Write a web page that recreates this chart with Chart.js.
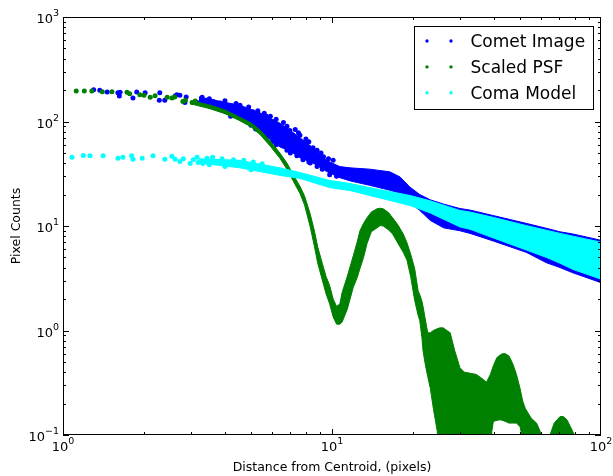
<!DOCTYPE html>
<html>
<head>
<meta charset="utf-8">
<script src="https://cdn.jsdelivr.net/npm/chart.js@4.4.1/dist/chart.umd.min.js"></script>
<style>
  body { margin: 0; background: #fff; }
  canvas { display: block; }
</style>
</head>
<body>
<canvas id="profileChart" width="613" height="476"></canvas>
<script>
// scattered points in the inner part of each profile
const cometX = [1.30, 1.37, 1.46, 1.60, 1.62, 1.63, 1.82, 1.88, 2.02, 2.29, 2.28, 2.39, 2.61, 2.65, 2.72, 2.87, 2.84, 3.15, 3.29, 3.31,
  3.43, 3.5, 3.62, 3.73, 3.83, 4.0, 4.07, 4.2, 4.27, 4.4, 4.55, 4.85, 4.9, 5.0, 5.08, 5.3, 5.40, 5.7, 5.7, 5.9,
  6.05, 6.2, 6.41, 6.6, 6.97, 7.0, 7.2, 7.3, 7.6, 7.8, 8.0, 8.05, 8.3, 8.5, 8.8, 8.8, 9.0, 9.3, 9.5, 9.8, 10.1,
  5.6, 6.2, 6.8, 7.5, 8.2, 9.1, 9.7, 5.2, 6.0, 6.8, 7.4, 8.2, 9.2, 10.4];
const cometY = [201, 199, 192, 188, 175, 190, 168, 192, 188, 188, 160, 160, 175, 180, 178, 172, 152, 152, 171, 160,
  160, 165, 155, 138, 150, 158, 138, 112, 128, 149, 143, 121, 138, 92, 124, 127, 103, 112, 70, 112,
  96, 60, 88, 98, 82, 50, 69, 84, 74, 43, 68, 62, 40, 56, 53, 37, 45, 46, 40, 31, 42.5,
  120, 105, 90, 78, 64, 50, 44, 85, 64, 53, 47, 41, 35, 30];

const psfX = [1.12, 1.20, 1.28, 1.40, 1.52, 1.73, 1.77, 1.93, 2.0, 2.11, 2.2, 2.44, 2.54, 2.6, 2.79, 2.85, 3.02, 3.1];
const psfY = [196, 196, 196, 193, 193, 190, 184, 180, 178, 171, 176, 171, 168, 172, 155, 160, 152, 157];

const comaX = [1.08, 1.19, 1.26, 1.41, 1.60, 1.67, 1.80, 1.82, 1.97, 2.16, 2.39, 2.54, 2.61, 2.72, 2.80, 2.97, 3.05, 3.15, 3.18, 3.31,
  3.43, 3.5, 3.6, 3.9, 4.0, 4.3, 4.7, 5.0, 5.1, 5.5];
const comaY = [45.4, 47.4, 47, 47, 44.5, 45.4, 47, 43.5, 44.5, 47, 43.5, 46.4, 43.5, 41.5, 44, 39.7, 43, 45.4, 40.6, 39.7,
  44.5, 38.5, 45.5, 44, 37, 43, 42.5, 34.5, 41, 39.5];

// dense parts: upper and lower envelope of the point cloud
const cometBandX  = [3.2, 3.83, 4.55, 5.4, 6.41, 7.0, 7.6, 8.5, 9.6, 10.7, 11.7, 13.8, 16.4, 17.9, 19.5, 21.2, 23.2, 26, 29.9, 32.6, 39.7, 52.7, 62.7, 70.4, 78.5, 100];
const cometBandHi = [172, 156, 143, 121, 96, 82, 70, 56, 42, 37, 36, 35, 33, 29.5, 23.5, 20, 17.8, 16.2, 14.7, 14.2, 12.6, 10.6, 9.5, 8.8, 8.4, 7.3];
const cometBandLo = [145, 125, 104, 80, 57, 52, 45, 40, 33, 29, 27, 24.5, 22, 20.5, 16.7, 14.1, 11.3, 9.6, 9.0, 8.5, 7.2, 5.6, 4.45, 4.0, 3.57, 2.87];

const psfBandX = [3.0, 3.5, 4.0, 4.5, 5.0, 5.4, 5.9, 6.4, 6.8, 7.2, 7.6, 7.9, 8.3, 8.6, 8.85, 9.2, 9.5, 9.8, 10.1, 10.4,
  10.7, 10.9, 11.4, 12.0, 12.4, 12.7, 13.1, 13.5, 14.0, 14.7, 15.1, 15.5, 16.2, 16.8, 17.6, 18.4, 19.0, 19.6, 20.3, 20.9,
  21.2, 21.6, 21.8, 22.2, 22.7, 23.2, 23.8, 24.6, 25.2, 25.9, 27.5, 28.6, 29.9, 31.0, 32.6, 34.4, 36.0, 37.5, 38.8, 39.3,
  39.8, 41.0, 42.1, 43.0, 44.1, 45.5, 47.0, 48.5, 50.0, 50.8, 51.2, 52.3, 55.0, 57.6, 60.2, 62.0, 64.6, 67.0, 70.4, 72.5,
  74.7, 77.0, 79.6, 81.0];
const psfBandHi = [158, 144, 129, 111, 97, 83, 65, 50, 40, 30.5, 24, 19.5, 13, 9, 6.3, 4.4, 3.3, 2.7, 2.0, 1.7,
  1.8, 2.3, 3.3, 5.2, 7.0, 9.0, 10.6, 12.0, 13.6, 14.6, 14.8, 14.6, 13.5, 12.0, 10.2, 8.4, 6.9, 5.4, 3.9, 2.4,
  2.2, 1.9, 1.7, 1.3, 0.95, 0.95, 1.0, 1.04, 1.06, 1.06, 0.95, 0.64, 0.44, 0.40, 0.39, 0.38, 0.35, 0.32, 0.38, 0.42,
  0.46, 0.55, 0.58, 0.60, 0.60, 0.57, 0.48, 0.38, 0.28, 0.23, 0.21, 0.18, 0.145, 0.13, 0.10, 0.07, 0.10, 0.13, 0.15, 0.15,
  0.14, 0.12, 0.10, 0.07];
const psfBandLo = [147, 133, 119, 103, 89, 75, 58, 44.5, 35, 26.5, 20.5, 16, 9.8, 6.4, 4.4, 3.05, 2.25, 1.8, 1.35, 1.15,
  1.15, 1.2, 1.6, 2.6, 3.2, 3.9, 5.0, 6.8, 8.8, 9.6, 10.1, 10.0, 9.2, 8.4, 6.8, 5.6, 4.7, 3.3, 1.93, 1.4,
  1.24, 0.85, 0.64, 0.48, 0.36, 0.28, 0.18, 0.11, 0.05, 0.05, 0.05, 0.05, 0.05, 0.05, 0.05, 0.05, 0.05, 0.05, 0.05, 0.11,
  0.135, 0.138, 0.14, 0.138, 0.135, 0.13, 0.13, 0.13, 0.12, 0.10, 0.05, 0.05, 0.05, 0.05, 0.05, 0.05, 0.05, 0.05, 0.05, 0.05,
  0.05, 0.05, 0.05, 0.05];

const comaBandX  = [3.2, 4.55, 6.41, 7.6, 9.8, 11.7, 13.8, 19.5, 23.2, 29.9, 32.6, 39.7, 52.7, 62.7, 70.4, 78.5, 100];
const comaBandHi = [44, 42.5, 36, 32.5, 27.3, 25.5, 23.3, 19.6, 17.4, 14.1, 13.6, 12.1, 10.1, 9.1, 8.5, 8.0, 7.0];
const comaBandLo = [40, 36, 30.5, 28.5, 23.3, 21.8, 19.6, 15.7, 13.3, 9.8, 9.3, 7.7, 5.9, 5.0, 4.4, 3.85, 3.1];

const seriesNames = ["Comet Image", "Scaled PSF", "Coma Model"];
const xExponents = [0, 1, 2];
const yExponents = [-1, 0, 1, 2, 3];

const BLUE = "#0000ff", GREEN = "#008000", CYAN = "#00ffff";
const FONT = '"DejaVu Sans", "Liberation Sans", sans-serif';

function toPoints(xs, ys) {
  return xs.map((x, i) => ({ x: x, y: ys[i] }));
}

function dots(label, color, xs, ys, order) {
  return {
    type: "scatter", label: label, data: toPoints(xs, ys), order: order,
    backgroundColor: color, borderColor: color, pointRadius: 2.5, pointBorderWidth: 0, showLine: false,
  };
}

function edge(label, color, xs, ys, fill, order) {
  return {
    type: "line", label: label, data: toPoints(xs, ys), order: order, fill: fill,
    backgroundColor: color, borderColor: color, borderWidth: 1, pointRadius: 0, tension: 0,
  };
}

function supLabel(ctx, exp, x, y, align) {
  const main = "10";
  const sup = exp < 0 ? "\u2212" + Math.abs(exp) : String(exp);
  ctx.font = "13px " + FONT;
  const mw = ctx.measureText(main).width;
  ctx.font = "9.5px " + FONT;
  const sw = ctx.measureText(sup).width;
  const left = align === "right" ? x - mw - sw : x - (mw + sw) / 2;
  ctx.font = "13px " + FONT;
  ctx.fillText(main, left, y);
  ctx.font = "9.5px " + FONT;
  ctx.fillText(sup, left + mw, y - 7);
}

// frame, inward ticks on all sides, tick labels, titles and legend (matplotlib look)
const decor = {
  id: "decor",
  afterDraw(chart) {
    const { ctx, chartArea: a } = chart;
    const sx = chart.scales.x, sy = chart.scales.y;
    ctx.save();
    ctx.strokeStyle = "#000";
    ctx.fillStyle = "#000";
    ctx.lineWidth = 1;
    ctx.strokeRect(a.left + 0.5, a.top + 0.5, a.right - a.left - 1, a.bottom - a.top - 1);

    ctx.beginPath();
    for (let k = 0; k < 2; k++) {
      for (let m = 1; m <= 9; m++) {
        const v = m * Math.pow(10, k);
        const px = Math.round(sx.getPixelForValue(v)) + 0.5;
        const len = m === 1 ? 6 : 3;
        ctx.moveTo(px, a.bottom); ctx.lineTo(px, a.bottom - len);
        ctx.moveTo(px, a.top); ctx.lineTo(px, a.top + len);
      }
    }
    for (let k = -1; k < 3; k++) {
      for (let m = 1; m <= 9; m++) {
        const v = m * Math.pow(10, k);
        const py = Math.round(sy.getPixelForValue(v)) + 0.5;
        const len = m === 1 ? 6 : 3;
        ctx.moveTo(a.left, py); ctx.lineTo(a.left + len, py);
        ctx.moveTo(a.right, py); ctx.lineTo(a.right - len, py);
      }
    }
    ctx.stroke();

    ctx.textBaseline = "alphabetic";
    ctx.textAlign = "left";
    for (const e of yExponents) {
      supLabel(ctx, e, a.left - 4, sy.getPixelForValue(Math.pow(10, e)) + 6, "right");
    }
    for (const e of xExponents) {
      supLabel(ctx, e, sx.getPixelForValue(Math.pow(10, e)), a.bottom + 16, "center");
    }

    ctx.font = "12.5px " + FONT;
    ctx.textAlign = "center";
    ctx.fillText("Distance from Centroid, (pixels)", (a.left + a.right) / 2, 471);
    ctx.save();
    ctx.translate(20, (a.top + a.bottom) / 2);
    ctx.rotate(-Math.PI / 2);
    ctx.fillText("Pixel Counts", 0, 0);
    ctx.restore();

    // legend
    const bx = 414.5, by = 26.5, bw = 179, bh = 83;
    ctx.fillStyle = "#fff";
    ctx.fillRect(bx, by, bw, bh);
    ctx.strokeRect(bx, by, bw, bh);
    const colors = [BLUE, GREEN, CYAN];
    ctx.font = "17px " + FONT;
    ctx.textAlign = "left";
    seriesNames.forEach((name, i) => {
      const base = 47.3 + i * 25.9;
      ctx.fillStyle = colors[i];
      for (const dx of [427, 451]) {
        ctx.beginPath();
        ctx.arc(dx, base - 6.3, 1.7, 0, Math.PI * 2);
        ctx.fill();
      }
      ctx.fillStyle = "#000";
      ctx.fillText(name, 470.5, base);
    });
    ctx.restore();
  },
};

const chart = new Chart(document.getElementById("profileChart"), {
  type: "scatter",
  data: {
    datasets: [
      dots(seriesNames[0], BLUE, cometX, cometY, 3),
      edge(seriesNames[0] + " hi", BLUE, cometBandX, cometBandHi, "+1", 3),
      edge(seriesNames[0] + " lo", BLUE, cometBandX, cometBandLo, false, 3),
      dots(seriesNames[1], GREEN, psfX, psfY, 2),
      edge(seriesNames[1] + " hi", GREEN, psfBandX, psfBandHi, "+1", 2),
      edge(seriesNames[1] + " lo", GREEN, psfBandX, psfBandLo, false, 2),
      dots(seriesNames[2], CYAN, comaX, comaY, 1),
      edge(seriesNames[2] + " hi", CYAN, comaBandX, comaBandHi, "+1", 1),
      edge(seriesNames[2] + " lo", CYAN, comaBandX, comaBandLo, false, 1),
    ],
  },
  options: {
    responsive: false,
    animation: false,
    layout: { padding: { left: 63, right: 12, top: 17, bottom: 41 } },
    scales: {
      x: { type: "logarithmic", min: 1, max: 100, display: false },
      y: { type: "logarithmic", min: 0.1, max: 1000, display: false },
    },
    plugins: {
      legend: { display: false },
      tooltip: { enabled: false },
    },
  },
  plugins: [decor],
});
</script>
</body>
</html>
